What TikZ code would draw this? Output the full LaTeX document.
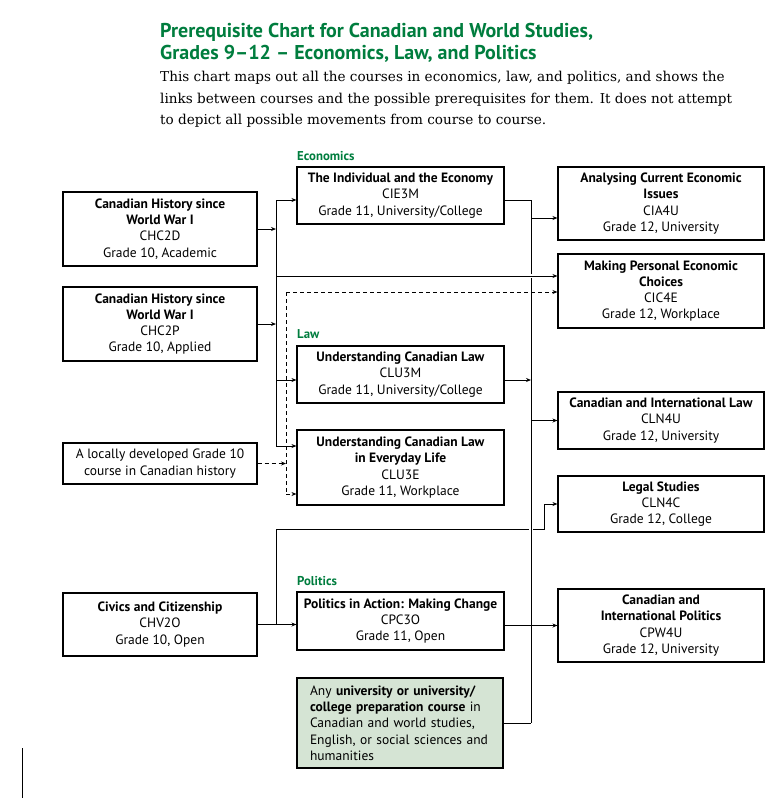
\documentclass[tikz,border=0pt]{standalone}
\usepackage{fontspec}
\setmainfont{DejaVu Serif}
\newfontfamily\chartfont{PT Sans}
\usetikzlibrary{arrows.meta}

\definecolor{chartgreen}{RGB}{0,125,62}
\definecolor{prepfill}{RGB}{213,228,212}

\tikzset{
  course/.style={draw, line width=1.1pt, align=center, inner sep=0pt,
    font=\chartfont\fontsize{13.5}{16.3}\selectfont},
  heading/.style={anchor=west, inner sep=0pt, text=chartgreen,
    font=\chartfont\bfseries\fontsize{12.8}{14}\selectfont},
  link/.style={line width=1pt},
  bridge/.style={preaction={draw=white, line width=4pt}},
  >={Stealth[length=5pt,width=4pt]}
}

\begin{document}
\begin{tikzpicture}[x=1pt,y=-1pt]
      \useasboundingbox (0,0) rectangle (782,798);

      % title and intro
      \node[anchor=north west, inner sep=0pt, align=left, text=chartgreen,
        font=\chartfont\bfseries\fontsize{20}{22}\selectfont] (title) at (160,23)
        {Prerequisite Chart for Canadian and World Studies,\\Grades 9–12 – Economics, Law, and Politics};
      \node[anchor=north west, inner sep=0pt, align=left,
        font=\fontsize{13.6}{21.5}\selectfont] (intro) at (160,71)
        {This chart maps out all the courses in economics, law, and politics, and shows the\\
         links between courses and the possible prerequisites for them. It does not attempt\\
         to depict all possible movements from course to course.};

      % grade 10
      \node[course, minimum width=194, minimum height=74] (chc2d) at (160,229)
        {\textbf{Canadian History since}\\\textbf{World War I}\\CHC2D\\Grade 10, Academic};
      \node[course, minimum width=194, minimum height=74] (chc2p) at (160,324)
        {\textbf{Canadian History since}\\\textbf{World War I}\\CHC2P\\Grade 10, Applied};
      \node[course, minimum width=194, minimum height=41] (local) at (160,463.5)
        {A locally developed Grade 10\\course in Canadian history};
      \node[course, minimum width=194, minimum height=63] (chv2o) at (160,624.5)
        {\textbf{Civics and Citizenship}\\CHV2O\\Grade 10, Open};

      % grade 11
      \node[heading] (econ) at (297,156) {Economics};
      \node[course, minimum width=207, minimum height=57] (cie3m) at (400.5,195.5)
        {\textbf{The Individual and the Economy}\\CIE3M\\Grade 11, University/College};
      \node[heading] (law) at (297,334) {Law};
      \node[course, minimum width=207, minimum height=57] (clu3m) at (400.5,374.5)
        {\textbf{Understanding Canadian Law}\\CLU3M\\Grade 11, University/College};
      \node[course, minimum width=207, minimum height=75] (clu3e) at (400.5,467.5)
        {\textbf{Understanding Canadian Law}\\\textbf{in Everyday Life}\\CLU3E\\Grade 11, Workplace};
      \node[heading] (politics) at (297,581) {Politics};
      \node[course, minimum width=207, minimum height=58] (cpc3o) at (400.5,621)
        {\textbf{Politics in Action: Making Change}\\CPC3O\\Grade 11, Open};
      \node[course, fill=prepfill, align=left, text width=180, inner xsep=13,
        minimum height=90] (prep) at (400,723)
        {Any \textbf{university or university/}\\\textbf{college preparation course} in\\
         Canadian and world studies,\\English, or social sciences and\\humanities};

      % grade 12
      \node[course, minimum width=206, minimum height=73] (cia4u) at (661,203.5)
        {\textbf{Analysing Current Economic}\\\textbf{Issues}\\CIA4U\\Grade 12, University};
      \node[course, minimum width=206, minimum height=74] (cic4e) at (661,291)
        {\textbf{Making Personal Economic}\\\textbf{Choices}\\CIC4E\\Grade 12, Workplace};
      \node[course, minimum width=206, minimum height=57] (cln4u) at (661,420.5)
        {\textbf{Canadian and International Law}\\CLN4U\\Grade 12, University};
      \node[course, minimum width=206, minimum height=56] (cln4c) at (661,504)
        {\textbf{Legal Studies}\\CLN4C\\Grade 12, College};
      \node[course, minimum width=206, minimum height=73] (cpw4u) at (661,625.5)
        {\textbf{Canadian and}\\\textbf{International Politics}\\CPW4U\\Grade 12, University};

      % trunk points
      \coordinate (ltop) at (276,200);
      \coordinate (lcic) at (276,276);
      \coordinate (lclu) at (276,380);
      \coordinate (lbot) at (276,446);
      \coordinate (dtop) at (286,292);
      \coordinate (dbot) at (286,494);
      \coordinate (rtop) at (531,200);
      \coordinate (rcia) at (531,218);
      \coordinate (rbot) at (531,723);
      \coordinate (cbend) at (544,529);

      % civics
      \draw[link,->] (chv2o.east) -- (chv2o.east -| cpc3o.west);
      \draw[link,->] (chv2o.east -| ltop) |- (cbend) |- (cln4c.west);

      % right trunk
      \draw[link,bridge] (rtop) -- (rbot);
      \draw[link,bridge,->] (lcic) -- (lcic -| cic4e.west);

      % left trunk
      \draw[link] (ltop) -- (lbot);
      \draw[link,->] (chc2d.east) -- (chc2d.east -| ltop);
      \draw[link,->] (chc2p.east) -- (chc2p.east -| ltop);
      \draw[link,->] (ltop) -- (ltop -| cie3m.west);
      \draw[link,->] (lclu) -- (lclu -| clu3m.west);
      \draw[link,->] (lbot) -- (lbot -| clu3e.west);

      % locally developed course
      \draw[link,dash pattern=on 4pt off 3pt] (dtop) -- (dbot);
      \draw[link,dash pattern=on 4pt off 3pt,->] (local.east) -- (local.east -| dtop);
      \draw[link,dash pattern=on 4pt off 3pt,->] (dtop) -- (dtop -| cic4e.west);
      \draw[link,dash pattern=on 4pt off 3pt,->] (dbot) -- (dbot -| clu3e.west);

      % into grade 12
      \draw[link] (rtop -| cie3m.east) -- (rtop);
      \draw[link,->] (rcia) -- (rcia -| cia4u.west);
      \draw[link,->] (lclu -| clu3m.east) -- (lclu -| rtop);
      \draw[link,->] (cln4u.west -| rtop) -- (cln4u.west);
      \draw[link] (cpw4u.west -| cpc3o.east) -- (cpw4u.west -| rtop);
      \draw[link,->] (cpw4u.west -| rtop) -- (cpw4u.west);
      \draw[link] (prep.east) -- (prep.east -| rtop);

      \draw[line width=1pt] (22,748) -- (22,798);
    \end{tikzpicture}
\end{document}
